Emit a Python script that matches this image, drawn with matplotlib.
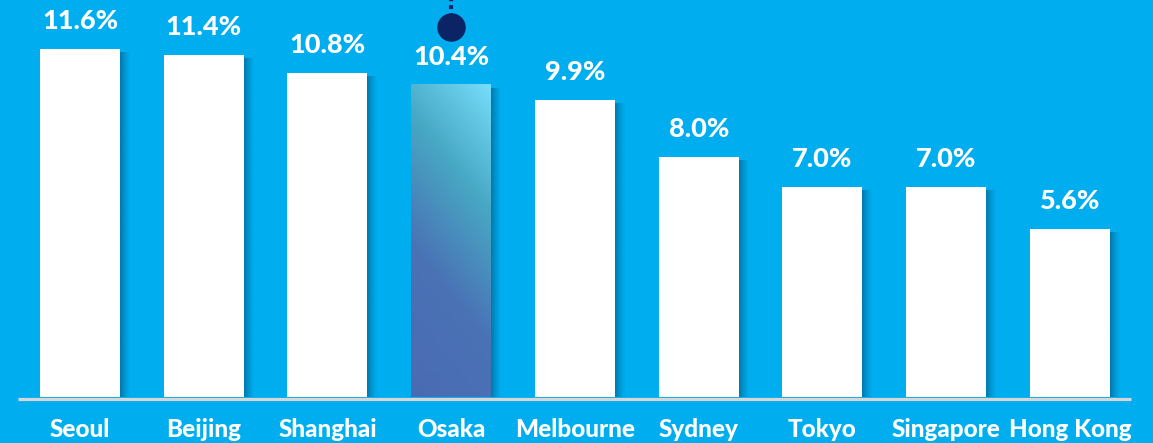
import numpy as np
import matplotlib.pyplot as plt
from matplotlib.colors import LinearSegmentedColormap, to_rgb

plt.rcParams["font.family"] = ["Lato", "DejaVu Sans"]

cities = ["Seoul", "Beijing", "Shanghai", "Osaka", "Melbourne",
          "Sydney", "Tokyo", "Singapore", "Hong Kong"]
values = [11.6, 11.4, 10.8, 10.4, 9.9, 8.0, 7.0, 7.0, 5.6]
labels = ["11.6%", "11.4%", "10.8%", "10.4%", "9.9%",
          "8.0%", "7.0%", "7.0%", "5.6%"]
highlight = "Osaka"

BG = "#00AEEF"
BAR_W = 0.646

fig = plt.figure(figsize=(11.53, 4.43), dpi=100, facecolor=BG)
ax = fig.add_axes([0, 0, 1, 1])
ax.set_facecolor(BG)
ax.set_xlim(-0.646, 8.671)
ax.set_ylim(-1.533, 13.233)
ax.axis("off")

x = np.arange(len(cities))

# soft shadow on the right side of every bar
shadow = np.zeros((1, 40, 4))
shadow[..., :3] = to_rgb("#053a5c")
shadow[0, :, 3] = np.linspace(0.55, 0.0, 40) ** 1.3
for xi, v in zip(x, values):
    ax.imshow(shadow, extent=(xi + BAR_W / 2, xi + BAR_W / 2 + 0.085, 0, v - 0.13),
              aspect="auto", interpolation="bilinear", zorder=1)

# bars
for xi, v, c in zip(x, values, cities):
    if c == highlight:
        continue
    ax.bar(xi, v, width=BAR_W, color="white", zorder=2)

# highlighted bar with diagonal gradient
hi = cities.index(highlight)
hv = values[hi]
cmap = LinearSegmentedColormap.from_list(
    "osaka", [(0.0, "#4A6BB3"), (0.37, "#4A72B5"), (0.69, "#47A8C4"), (1.0, "#76DDFA")])
h_px, w_px = 312, 80
px, py = np.meshgrid(np.arange(w_px), np.arange(h_px))
t = 100 * px - 80 * py
t = (t - t.min()) / (t.max() - t.min())
ax.imshow(cmap(t), extent=(hi - BAR_W / 2, hi + BAR_W / 2, 0, hv),
          aspect="auto", interpolation="bilinear", zorder=2)

# baseline
ax.plot([-0.501, 8.493], [-0.05, -0.05], color="#D6D6D6", lw=2.3,
        solid_capstyle="butt", zorder=3)

# value labels and category labels
for xi, v, lab, c in zip(x, values, labels, cities):
    ax.text(xi, v + 0.68, lab, ha="center", va="baseline", color="white",
            fontsize=19.5, fontweight="black", zorder=4)
    ax.text(xi, -1.33, c, ha="center", va="baseline", color="white",
            fontsize=17.5, fontweight="black", zorder=4)

# pointer above the highlighted bar
ax.plot([hi, hi], [12.67, 13.4], color="#0B2466", lw=3,
        linestyle=(0, (0.95, 0.95)), zorder=4)
ax.plot(hi, 12.32, "o", ms=19.5, color="#0B2466", zorder=5)

fig.savefig("out.png", dpi=100, facecolor=BG)
